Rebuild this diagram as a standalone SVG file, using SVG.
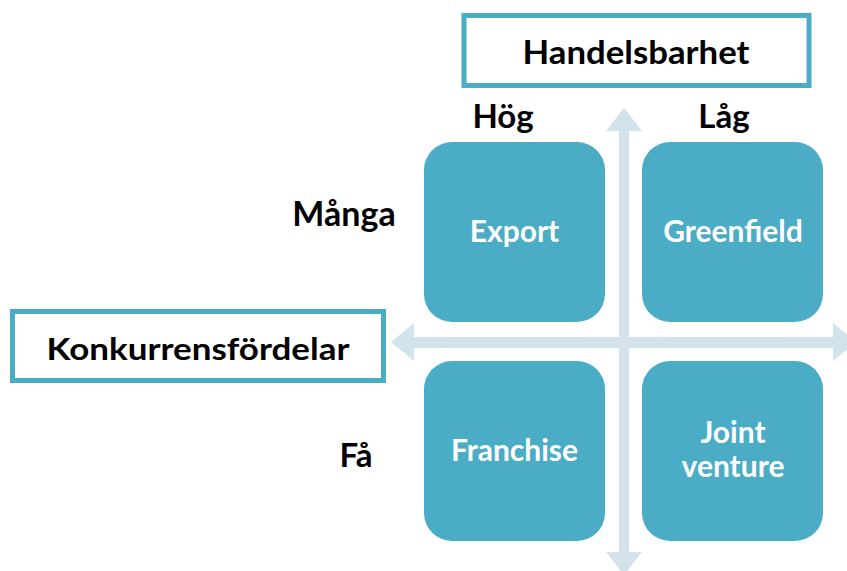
<svg xmlns="http://www.w3.org/2000/svg" width="847" height="571" viewBox="0 0 847 571">
<style>
.box{fill:#4BACC6}
.frame{fill:#fff;stroke:#4BACC6;stroke-width:5}
.arr{fill:#D2E3EB}
.lbl{font-family:Lato,"Open Sans",sans-serif;font-weight:bold;fill:#000;text-anchor:middle}
.in{font-family:Lato,"Open Sans",sans-serif;font-weight:bold;fill:#fff;text-anchor:middle;font-size:30px}
</style>
<g id="connectors">
<path class="arr" d="M619,131 L606,131 L624,108 L642,131 L629,131 L629,552 L642,552 L624,575 L606,552 L619,552 Z"/>
<path class="arr" d="M414,337 L414,323 L391,342 L414,361 L414,348 L833,348 L833,361 L856,342 L833,323 L833,337 Z"/>
</g>
<g id="handelsbarhet">
<rect class="frame" x="464" y="15.5" width="345" height="70"/>
<text class="lbl" x="636" y="64" font-size="33" textLength="227" lengthAdjust="spacingAndGlyphs">Handelsbarhet</text>
</g>
<g id="konkurrensfordelar">
<rect class="frame" x="12.5" y="311.5" width="371" height="69"/>
<text class="lbl" x="198" y="360" font-size="31" textLength="303" lengthAdjust="spacingAndGlyphs">Konkurrensfördelar</text>
</g>
<g id="hog"><text class="lbl" x="503" y="128" font-size="33">Hög</text></g>
<g id="lag"><text class="lbl" x="724" y="128" font-size="33">Låg</text></g>
<g id="manga"><text class="lbl" x="344" y="226" font-size="34">Många</text></g>
<g id="fa"><text class="lbl" x="356" y="467" font-size="33">Få</text></g>
<g id="export">
<rect class="box" x="424" y="142" width="181" height="180" rx="28"/>
<text class="in" x="514.5" y="242">Export</text>
</g>
<g id="greenfield">
<rect class="box" x="642" y="142" width="181" height="180" rx="28"/>
<text class="in" x="733" y="242">Greenfield</text>
</g>
<g id="franchise">
<rect class="box" x="424" y="361" width="181" height="180" rx="28"/>
<text class="in" x="514.5" y="461">Franchise</text>
</g>
<g id="joint-venture">
<rect class="box" x="642" y="361" width="181" height="180" rx="28"/>
<text class="in" x="733" y="443">Joint</text>
<text class="in" x="733" y="477">venture</text>
</g>
</svg>
